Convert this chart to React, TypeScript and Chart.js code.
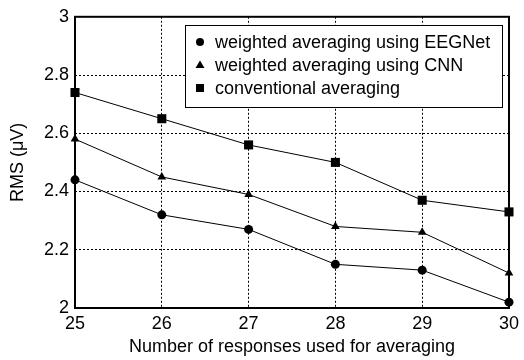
import React, { useEffect, useRef } from "react";
import { Chart, registerables } from "chart.js";

Chart.register(...registerables);

const xValues = [25, 26, 27, 28, 29, 30];
const eegnet = [2.44, 2.32, 2.27, 2.15, 2.13, 2.02];
const cnn = [2.58, 2.45, 2.39, 2.28, 2.26, 2.12];
const conventional = [2.74, 2.65, 2.56, 2.5, 2.37, 2.33];
const seriesLabels = [
  "weighted averaging using EEGNet",
  "weighted averaging using CNN",
  "conventional averaging",
];
const xTitle = "Number of responses used for averaging";
const yTitle = "RMS (\u03bcV)";

const FONT = "'Liberation Sans', Arial, Helvetica, sans-serif";
const FS = 18;

const toPts = (ys: number[]) => xValues.map((x, i) => ({ x, y: ys[i] }));

const frame = {
  id: "frame",
  beforeDatasetsDraw(chart: any) {
    const { ctx, chartArea: a } = chart;
    ctx.save();
    ctx.strokeStyle = "#000";
    ctx.lineWidth = 2;
    ctx.strokeRect(a.left, a.top, a.right - a.left, a.bottom - a.top);
    ctx.restore();
  },
};

const legendBox = {
  id: "legendBox",
  afterDraw(chart: any) {
    const { ctx } = chart;
    const bx = 185.5, by = 25.5, bw = 317, bh = 82;
    ctx.save();
    ctx.fillStyle = "#fff";
    ctx.fillRect(bx, by, bw, bh);
    ctx.strokeStyle = "#000";
    ctx.lineWidth = 1;
    ctx.strokeRect(bx, by, bw, bh);
    const rows = [42, 65, 88];
    const mx = 200;
    ctx.fillStyle = "#000";
    chart.data.datasets.forEach((ds: any, i: number) => {
      const y = rows[i];
      ctx.beginPath();
      if (ds.pointStyle === "circle") {
        ctx.arc(mx, y, 4, 0, Math.PI * 2);
      } else if (ds.pointStyle === "triangle") {
        ctx.moveTo(mx, y - 4.5);
        ctx.lineTo(mx + 4.5, y + 3);
        ctx.lineTo(mx - 4.5, y + 3);
        ctx.closePath();
      } else {
        ctx.rect(mx - 4, y - 4, 8, 8);
      }
      ctx.fill();
      ctx.font = `${FS}px ${FONT}`;
      ctx.textBaseline = "middle";
      ctx.textAlign = "left";
      ctx.fillText(ds.label, 215, y + 1);
    });
    ctx.restore();
  },
};

const fmt = (v: any) => String(Math.round(Number(v) * 10) / 10);

export default function App() {
  const ref = useRef<HTMLCanvasElement>(null);
  useEffect(() => {
    if (!ref.current) return;
    Chart.defaults.font.family = FONT;
    const common = {
      borderColor: "#000",
      backgroundColor: "#000",
      pointBackgroundColor: "#000",
      pointBorderColor: "#000",
      borderWidth: 1,
      pointBorderWidth: 0,
      clip: false as any,
    };
    const chart = new Chart(ref.current, {
      type: "line",
      data: {
        datasets: [
          { ...common, label: seriesLabels[0], data: toPts(eegnet), pointStyle: "circle", pointRadius: 4.5 },
          { ...common, label: seriesLabels[1], data: toPts(cnn), pointStyle: "triangle", pointRadius: 5 },
          { ...common, label: seriesLabels[2], data: toPts(conventional), pointStyle: "rect", pointRadius: 6.4 },
        ],
      },
      options: {
        responsive: false,
        animation: false,
        events: [],
        layout: { padding: { left: 0, right: 11, top: 15, bottom: 0 } },
        plugins: { legend: { display: false }, tooltip: { enabled: false } },
        scales: {
          x: {
            type: "linear",
            min: 25,
            max: 30,
            afterFit: (s: any) => { s.height = 52; },
            ticks: { stepSize: 1, color: "#000", font: { size: FS }, padding: 5, callback: fmt },
            grid: { color: "#000", lineWidth: 1, drawTicks: false },
            border: { display: false, dash: [2, 2] },
            title: { display: true, text: xTitle, color: "#000", font: { size: FS }, padding: { top: 0, bottom: 2 } },
          },
          y: {
            type: "linear",
            min: 2,
            max: 3,
            afterFit: (s: any) => { s.width = 75; },
            ticks: { stepSize: 0.2, color: "#000", font: { size: FS }, padding: 6, callback: fmt },
            grid: { color: "#000", lineWidth: 1, drawTicks: false },
            border: { display: false, dash: [2, 2] },
            title: { display: true, text: yTitle, color: "#000", font: { size: FS }, padding: { top: 7, bottom: 0 } },
          },
        },
      },
      plugins: [frame, legendBox],
    });
    return () => chart.destroy();
  }, []);
  return (
    <div style={{ position: "fixed", left: 0, top: 0, width: 524, height: 360, background: "#fff" }}>
      <canvas ref={ref} width={524} height={360} />
    </div>
  );
}
